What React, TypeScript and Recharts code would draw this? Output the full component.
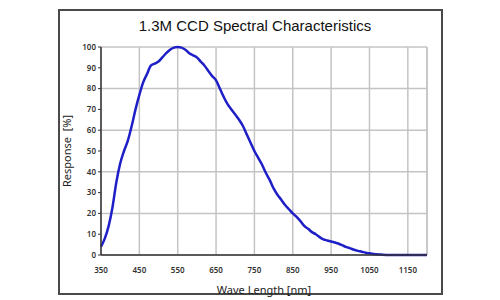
import { LineChart, Line, XAxis, YAxis, CartesianGrid, ReferenceLine } from 'recharts'

const WAVELENGTH = [
  350, 360, 370, 380, 390, 400, 410, 420, 430, 440, 450, 460, 470, 480, 490,
  500, 510, 520, 530, 540, 550, 560, 570, 580, 590, 600, 610, 620, 630, 640,
  650, 660, 670, 680, 690, 700, 710, 720, 730, 740, 750, 760, 770, 780, 790,
  800, 810, 820, 830, 840, 850, 860, 870, 880, 890, 900, 910, 920, 930, 940,
  950, 960, 970, 980, 990, 1000, 1010, 1020, 1030, 1040, 1050, 1060, 1080, 1100, 1150, 1200,
]

const RESPONSE = [
  4, 8, 14, 23, 35, 44, 50, 55, 62, 70, 77, 83, 87, 91, 92,
  93, 95, 97, 98.7, 99.7, 100, 99.7, 98.7, 97, 96, 95, 93, 91, 88.5, 86,
  84, 80, 76, 72.5, 70, 67.5, 65, 62, 58, 54, 50, 46.7, 43.4, 39.4, 36,
  32, 29, 26.6, 24, 22, 20, 18.3, 16.3, 14, 12.6, 11, 10, 8.6, 7.5, 7,
  6.5, 6, 5.4, 4.6, 3.8, 3.2, 2.5, 2, 1.6, 1.1, 0.8, 0.5, 0.2, 0, 0, 0,
]

const X_TICKS = [350, 450, 550, 650, 750, 850, 950, 1050, 1150]
const Y_TICKS = [0, 10, 20, 30, 40, 50, 60, 70, 80, 90, 100]

const data = WAVELENGTH.map((w, i) => ({ wave: w, response: RESPONSE[i] }))

const tickStyle = { fontSize: 8, fill: '#333', fontFamily: 'Noto Sans', fontWeight: 600 }

export default function App() {
  return (
    <div style={{ position: 'absolute', left: 0, top: 0, width: 500, height: 300, background: '#fff' }}>
      <div
        style={{
          position: 'absolute', left: 58, top: 9, width: 385, height: 286,
          border: '2px solid #4a4a4a', boxSizing: 'border-box',
        }}
      />
      <div
        style={{
          position: 'absolute', left: 0, top: 17, width: 510, textAlign: 'center',
          fontFamily: 'Liberation Sans', fontSize: 15, color: '#111',
        }}
      >
        1.3M CCD Spectral Characteristics
      </div>
      <div style={{ position: 'absolute', left: 0, top: 0 }}>
        <LineChart width={500} height={300} data={data} margin={{ top: 47, right: 73, left: 61, bottom: 15 }}>
          <CartesianGrid stroke="#c4c4c4" strokeWidth={1.5} />
          <XAxis
            dataKey="wave" type="number" domain={[350, 1200]} ticks={X_TICKS}
            tick={tickStyle} tickLine={false} axisLine={{ stroke: '#333', strokeWidth: 1.5 }}
            height={30} tickMargin={6}
            label={{ value: 'Wave Length [nm]', position: 'insideBottom', offset: -9, fontSize: 11, fill: '#222', fontFamily: 'Noto Sans' }}
          />
          <YAxis
            domain={[0, 100]} ticks={Y_TICKS} width={40}
            tick={tickStyle} tickSize={3} tickLine={{ stroke: '#333' }} axisLine={{ stroke: '#333', strokeWidth: 1.5 }}
            label={{ value: 'Response\u00a0\u00a0[%]', angle: -90, position: 'insideLeft', offset: 6, style: { textAnchor: 'middle' }, fontSize: 11, fill: '#222', fontFamily: 'Noto Sans' }}
          />
          <ReferenceLine x={1200} stroke="#c4c4c4" strokeWidth={1.5} />
          <Line
            type="monotone" dataKey="response" stroke="#1f1fc8" strokeWidth={2.5}
            dot={false} isAnimationActive={false}
          />
        </LineChart>
      </div>
    </div>
  )
}
